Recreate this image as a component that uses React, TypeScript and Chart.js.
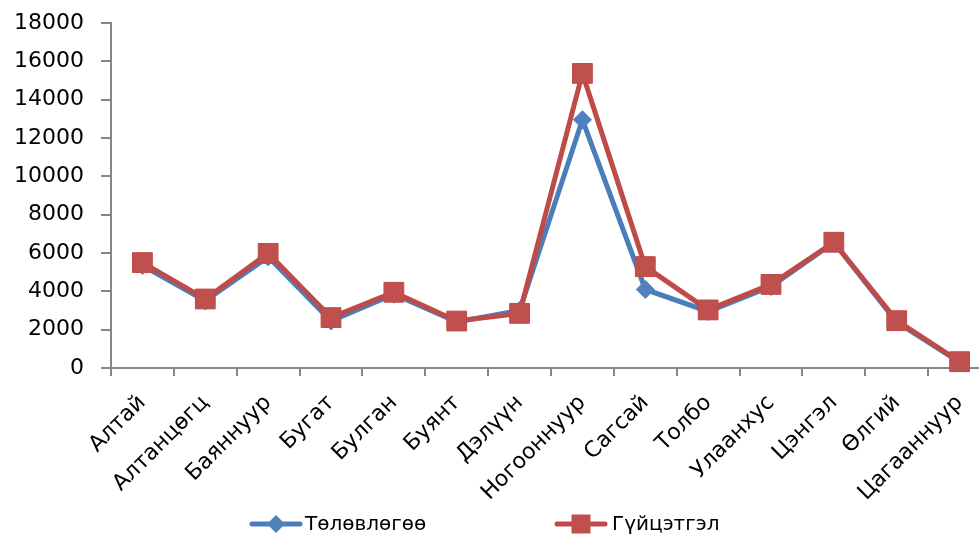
import React, { useEffect, useRef } from "react";
import { Chart, registerables } from "chart.js";

Chart.register(...registerables);

const categories = [
  "Алтай", "Алтанцөгц", "Баяннуур", "Бугат", "Булган", "Буянт", "Дэлүүн",
  "Ногооннуур", "Сагсай", "Толбо", "Улаанхус", "Цэнгэл", "Өлгий", "Цагааннуур",
];
const planValues = [5350, 3500, 5800, 2450, 3850, 2400, 3000, 12950, 4100, 2950, 4250, 6550, 2400, 300];
const actualValues = [5500, 3600, 5980, 2630, 3950, 2450, 2850, 15370, 5290, 3030, 4360, 6560, 2470, 330];
const seriesNames = ["Төлөвлөгөө", "Гүйцэтгэл"];

const FONT = "'DejaVu Sans', sans-serif";
const AXIS = "#868686";

const legendPlugin = {
  id: "lineMarkerLegend",
  afterDraw(chart: any) {
    const ctx = chart.ctx;
    const items = [
      { x: 250, ds: chart.data.datasets[0] },
      { x: 555, ds: chart.data.datasets[1] },
    ];
    const y = 524;
    ctx.save();
    items.forEach(({ x, ds }) => {
      ctx.strokeStyle = ds.borderColor;
      ctx.lineWidth = 5;
      ctx.lineCap = "round";
      ctx.beginPath();
      ctx.moveTo(x + 2, y);
      ctx.lineTo(x + 50, y);
      ctx.stroke();
      ctx.fillStyle = ds.pointBackgroundColor;
      ctx.beginPath();
      if (ds.pointStyle === "rectRot") {
        const r = 9;
        ctx.moveTo(x + 26 - r, y);
        ctx.lineTo(x + 26, y - r);
        ctx.lineTo(x + 26 + r, y);
        ctx.lineTo(x + 26, y + r);
        ctx.closePath();
      } else {
        ctx.rect(x + 26 - 9.5, y - 9.5, 19, 19);
      }
      ctx.fill();
      ctx.fillStyle = "#000";
      ctx.font = `20px ${FONT}`;
      ctx.textBaseline = "middle";
      ctx.textAlign = "left";
      ctx.fillText(ds.label, x + (ds.pointStyle === "rectRot" ? 55 : 57), y + 1);
    });
    ctx.restore();
  },
};

export default function App() {
  const ref = useRef<HTMLCanvasElement>(null);
  useEffect(() => {
    if (!ref.current) return;
    const chart = new Chart(ref.current, {
      type: "line",
      data: {
        labels: categories,
        datasets: [
          {
            label: seriesNames[0],
            data: planValues,
            borderColor: "#4A7EBB",
            backgroundColor: "#4F81BD",
            pointBackgroundColor: "#4F81BD",
            pointBorderColor: "#4F81BD",
            pointStyle: "rectRot",
            pointRadius: 9,
            pointBorderWidth: 1,
            borderWidth: 5,
            tension: 0,
            order: 1,
            clip: false,
          },
          {
            label: seriesNames[1],
            data: actualValues,
            borderColor: "#BE4B48",
            backgroundColor: "#C0504D",
            pointBackgroundColor: "#C0504D",
            pointBorderColor: "#BE4B48",
            pointStyle: "rect",
            pointRadius: 14,
            pointBorderWidth: 1,
            borderWidth: 5,
            tension: 0,
            order: 0,
            clip: false,
          },
        ],
      },
      options: {
        animation: false,
        responsive: false,
        maintainAspectRatio: false,
        layout: { autoPadding: false, padding: { top: 23, right: 9, left: 0, bottom: 0 } },
        plugins: { legend: { display: false }, tooltip: { enabled: false } },
        scales: {
          x: {
            offset: true,
            afterFit: (s: any) => { s.height = 171; },
            grid: { offset: true, drawOnChartArea: false, drawTicks: true, tickLength: 8, color: AXIS, lineWidth: 2 },
            border: { color: AXIS, width: 2 },
            ticks: {
              color: "#000",
              font: { family: FONT, size: 22 },
              minRotation: 45,
              maxRotation: 45,
              autoSkip: false,
              padding: 14,
            },
          },
          y: {
            min: 0,
            max: 18000,
            afterFit: (s: any) => { s.width = 111; s.paddingTop = 0; s.paddingBottom = 0; },
            grid: { drawOnChartArea: false, drawTicks: true, tickLength: 10, color: AXIS, lineWidth: 2 },
            border: { color: AXIS, width: 2 },
            ticks: {
              stepSize: 2000,
              color: "#000",
              font: { family: FONT, size: 22 },
              padding: 17,
              callback: (v: any) => String(v),
            },
          },
        },
      },
      plugins: [legendPlugin],
    });
    return () => chart.destroy();
  }, []);
  return (
    <div style={{ position: "fixed", left: 0, top: 0, width: 979, height: 539, overflow: "hidden", background: "#fff" }}>
      <canvas ref={ref} width={1000} height={539} style={{ width: 1000, height: 539, display: "block" }} />
    </div>
  );
}
